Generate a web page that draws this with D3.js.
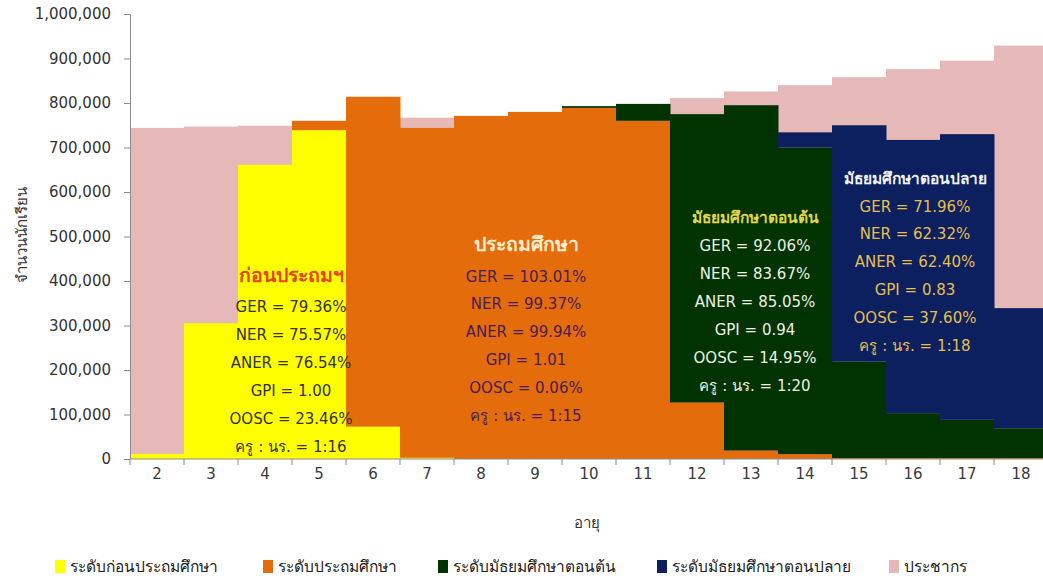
<!DOCTYPE html>
<html><head><meta charset="utf-8">
<script src="https://cdn.jsdelivr.net/npm/d3@7"></script>
<style>
html,body{margin:0;padding:0;background:#fff;}
svg{display:block;}
text{font-family:"Tahoma","DejaVu Sans","Noto Sans",sans-serif;}
</style></head>
<body><svg id="chart" width="1043" height="581"></svg>
<script>
const ages = [2,3,4,5,6,7,8,9,10,11,12,13,14,15,16,17,18];
const preprimary = [11000,305000,661000,739000,73000,3000,0,0,0,0,0,0,0,0,0,0,0];
const primary    = [0,0,0,21000,741000,741000,771000,780000,789000,760000,127000,19000,11000,2000,2000,2000,2000];
const lowerSec   = [0,0,0,0,0,0,0,0,4000,38000,648000,776000,689000,217000,101000,86000,67000];
const upperSec   = [0,0,0,0,0,0,0,0,0,0,0,0,34000,531000,614000,642000,270000];
const population = [744000,747000,749000,750000,760000,767000,768000,775000,785000,795000,811000,826000,840000,858000,876000,895000,929000];
const yTicks = [0,100000,200000,300000,400000,500000,600000,700000,800000,900000,1000000];
const seriesNames = ["ระดับก่อนประถมศึกษา","ระดับประถมศึกษา","ระดับมัธยมศึกษาตอนต้น","ระดับมัธยมศึกษาตอนปลาย","ประชากร"];
const seriesColors = ["#ffff00","#e46c0a","#003300","#0c1f5e","#e6b8b7"];
const yTitle = "จำนวนนักเรียน";
const xTitle = "อายุ";
const notes = [
  {title:"ก่อนประถมฯ", lines:["GER = 79.36%","NER = 75.57%","ANER = 76.54%","GPI = 1.00","OOSC = 23.46%","ครู : นร. = 1:16"]},
  {title:"ประถมศึกษา", lines:["GER = 103.01%","NER = 99.37%","ANER = 99.94%","GPI = 1.01","OOSC = 0.06%","ครู : นร. = 1:15"]},
  {title:"มัธยมศึกษาตอนต้น", lines:["GER = 92.06%","NER = 83.67%","ANER = 85.05%","GPI = 0.94","OOSC = 14.95%","ครู : นร. = 1:20"]},
  {title:"มัธยมศึกษาตอนปลาย", lines:["GER = 71.96%","NER = 62.32%","ANER = 62.40%","GPI = 0.83","OOSC = 37.60%","ครู : นร. = 1:18"]}
];

const svg = d3.select("#chart");
const x = d3.scaleBand().domain(ages).range([130, 1048]).padding(0);
const y = d3.scaleLinear().domain([0, 1000000]).range([459, 14]);

const rows = ages.map((a,i)=>({age:a, pre:preprimary[i], prim:primary[i], low:lowerSec[i], up:upperSec[i], pop:population[i]}));

// population behind
svg.append("g").selectAll("rect").data(rows).join("rect")
  .attr("x", d=>x(d.age)).attr("width", x.bandwidth()+0.5)
  .attr("y", d=>y(d.pop)).attr("height", d=>y(0)-y(d.pop))
  .attr("fill", seriesColors[4]);

const keys = ["pre","prim","low","up"];
const stacked = d3.stack().keys(keys)(rows);
svg.append("g").selectAll("g").data(stacked).join("g")
  .attr("fill", (d,i)=>seriesColors[i])
  .selectAll("rect").data(d=>d).join("rect")
  .attr("x", d=>x(d.data.age)).attr("width", x.bandwidth()+0.5)
  .attr("y", d=>y(d[1])).attr("height", d=>Math.max(0, y(d[0])-y(d[1])));

// axes
const yAxis = svg.append("g").attr("transform","translate(130,0)")
  .call(d3.axisLeft(y).tickValues(yTicks).tickSize(6).tickPadding(13).tickFormat(d3.format(",")));
yAxis.selectAll("text").attr("font-size",15).attr("fill","#333").attr("font-family","DejaVu Sans, sans-serif");
yAxis.selectAll("line,path").attr("stroke","#8c8c8c");

const xAxis = svg.append("g").attr("transform","translate(0,459)")
  .call(d3.axisBottom(x).tickSize(0).tickPadding(9));
xAxis.selectAll("text").attr("font-size",15).attr("fill","#3a3a3a").attr("font-family","Liberation Sans, sans-serif");
xAxis.select("path").attr("stroke","#8c8c8c").attr("d","M130,0H1048");
xAxis.selectAll(".bt").data(ages).join("line").attr("class","bt")
  .attr("x1",d=>x(d)).attr("x2",d=>x(d)).attr("y1",0).attr("y2",6).attr("stroke","#8c8c8c");

// axis titles
svg.append("text").attr("transform","translate(22,235) rotate(-90)").attr("text-anchor","middle")
  .attr("dominant-baseline","middle").attr("font-size",15).attr("fill","#333").text(yTitle);
svg.append("text").attr("x",587).attr("y",523).attr("text-anchor","middle")
  .attr("dominant-baseline","middle").attr("font-size",15).attr("fill","#333").text(xTitle);

// annotations
const noteStyle = [
  {cx:291, ty:276, ts:19.5, y0:307, dy:28, tc:"#e8421b", lc:"#333333"},
  {cx:526, ty:245, ts:19.5, y0:277, dy:27.9, tc:"#fdeccb", lc:"#4a1d55"},
  {cx:755, ty:218, ts:15.5, y0:246, dy:28, tc:"#e2d64a", lc:"#eef0e0"},
  {cx:915, ty:179, ts:15.5, y0:207, dy:27.9, tc:"#f2f2f2", lc:"#e6be52"}
];
notes.forEach((n,i)=>{
  const s = noteStyle[i];
  const g = svg.append("g").attr("text-anchor","middle");
  g.append("text").attr("x",s.cx).attr("y",s.ty).attr("dominant-baseline","middle")
    .attr("font-size",s.ts).attr("font-weight","bold").attr("fill",s.tc).text(n.title);
  n.lines.forEach((l,j)=>{
    g.append("text").attr("x",s.cx).attr("y",s.y0+j*s.dy).attr("dominant-baseline","middle")
      .attr("font-size",15).attr("fill",s.lc).text(l);
  });
});

// legend
const legX = [55, 263, 438, 657, 889];
const lg = svg.append("g");
seriesNames.forEach((name,i)=>{
  lg.append("rect").attr("x",legX[i]).attr("y",560).attr("width",10).attr("height",13).attr("fill",seriesColors[i]);
  lg.append("text").attr("x",legX[i]+15).attr("y",567).attr("dominant-baseline","middle")
    .attr("font-size",15.5).attr("fill","#222").text(name);
});
</script></body></html>
